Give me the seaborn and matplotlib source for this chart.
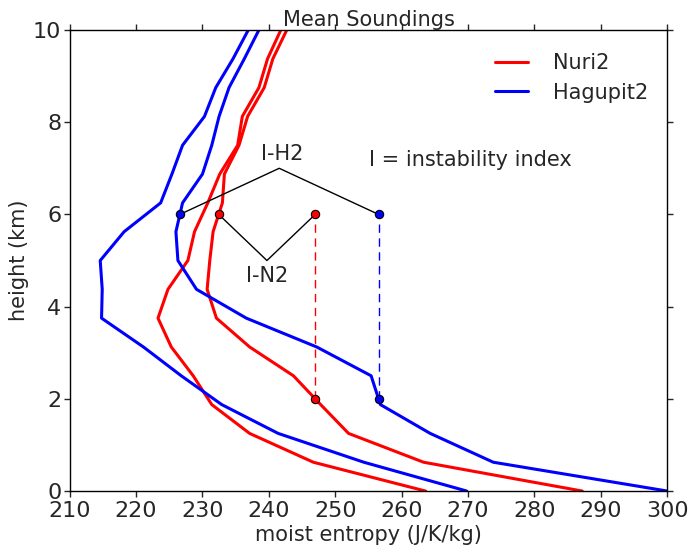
import numpy as np
import pandas as pd
import matplotlib
matplotlib.use("Agg")
import matplotlib.pyplot as plt
import seaborn as sns

# vertical levels (km)
heights = [0, 0.625, 1.25, 1.875, 2.5, 3.125, 3.75, 4.375, 5.0, 5.625,
           6.25, 6.875, 7.5, 8.125, 8.75, 9.375, 10]

# moist entropy and saturated moist entropy profiles (J/K/kg)
nuri2_s = [263.6, 246.7, 237.1, 231.4, 228.6, 225.3, 223.3, 224.8, 227.8, 228.8,
           230.8, 232.6, 235.3, 236.0, 238.5, 239.8, 241.8]
nuri2_sstar = [287.2, 263.3, 252.0, 247.8, 243.7, 237.1, 232.1, 230.7, 231.1, 231.6,
               233.0, 233.3, 235.5, 236.8, 239.3, 240.6, 242.7]
hagupit2_s = [269.8, 254.3, 241.4, 232.9, 226.8, 221.1, 214.8, 214.9, 214.6, 218.2,
              223.7, 225.4, 227.0, 230.3, 232.0, 234.6, 236.9]
hagupit2_sstar = [300.0, 273.8, 264.3, 256.8, 255.4, 247.2, 236.6, 229.1, 226.3, 226.0,
                  227.0, 230.0, 231.4, 232.5, 234.0, 236.3, 238.5]

storms = ["Nuri2", "Hagupit2"]
colors = {"Nuri2": "red", "Hagupit2": "blue"}
low_level = 2.0
high_level = 6.0

frames = []
for storm, s, sstar in [("Nuri2", nuri2_s, nuri2_sstar), ("Hagupit2", hagupit2_s, hagupit2_sstar)]:
    frames.append(pd.DataFrame({"entropy": s, "height": heights, "storm": storm, "kind": "s"}))
    frames.append(pd.DataFrame({"entropy": sstar, "height": heights, "storm": storm, "kind": "s*"}))
df = pd.concat(frames, ignore_index=True)

sns.set_style("ticks")
plt.rcParams["font.family"] = ["DejaVu Sans"]
plt.rcParams["xtick.direction"] = "out"
plt.rcParams["ytick.direction"] = "out"
plt.rcParams["xtick.top"] = True
plt.rcParams["ytick.right"] = True

fig = plt.figure(figsize=(6.9, 5.45), dpi=100)
ax = fig.add_axes([0.101, 0.099, 0.866, 0.846])

sns.lineplot(data=df, x="entropy", y="height", hue="storm", units="kind",
             estimator=None, sort=False, orient="y", palette=colors,
             hue_order=storms, linewidth=2.2, ax=ax)

# instability index brackets
apex_off = {"Nuri2": -1.0, "Hagupit2": 1.0}
labels = {"Nuri2": "I-N2", "Hagupit2": "I-H2"}
for storm, sstar in [("Nuri2", nuri2_sstar), ("Hagupit2", hagupit2_sstar)]:
    x_low = np.interp(low_level, heights, sstar)
    x_high = np.interp(high_level, heights, sstar)
    c = colors[storm]
    ax.plot([x_low, x_low], [low_level, high_level], color=c, linestyle="--",
            dashes=(6, 4), linewidth=1)
    xm = (x_low + x_high) / 2
    ym = high_level + apex_off[storm]
    ax.plot([x_high, xm, x_low], [high_level, ym, high_level], color="k", linewidth=1)
    ax.plot([x_high, x_low, x_low], [high_level, high_level, low_level], linestyle="none",
            marker="o", markersize=6, markerfacecolor=c, markeredgecolor="k",
            markeredgewidth=0.8, zorder=5)
    if apex_off[storm] > 0:
        ax.text(xm + 0.4, ym + 0.1, labels[storm], ha="center", va="bottom", fontsize=15)
    else:
        ax.text(xm, ym - 0.12, labels[storm], ha="center", va="top", fontsize=15)

ax.text(270.3, 7.18, "I = instability index", ha="center", va="center", fontsize=15)

ax.set_xlim(210, 300)
ax.set_ylim(0, 10)
ax.set_xticks(range(210, 301, 10))
ax.set_yticks(range(0, 11, 2))
ax.tick_params(labelsize=16, length=4, width=1, pad=2)
ax.tick_params(axis="x", pad=3)
ax.set_xlabel("moist entropy (J/K/kg)", fontsize=15, labelpad=3)
ax.set_ylabel("height (km)", fontsize=15, labelpad=3)
ax.set_title("Mean Soundings", fontsize=15, pad=2)
for sp in ax.spines.values():
    sp.set_linewidth(1)
    sp.set_color("k")

sns.move_legend(ax, "upper right", frameon=False, title=None, fontsize=15,
                bbox_to_anchor=(1.0, 0.99), handlelength=1.6, handletextpad=1.2,
                labelspacing=0.45)

fig.savefig("out.png", dpi=100)
